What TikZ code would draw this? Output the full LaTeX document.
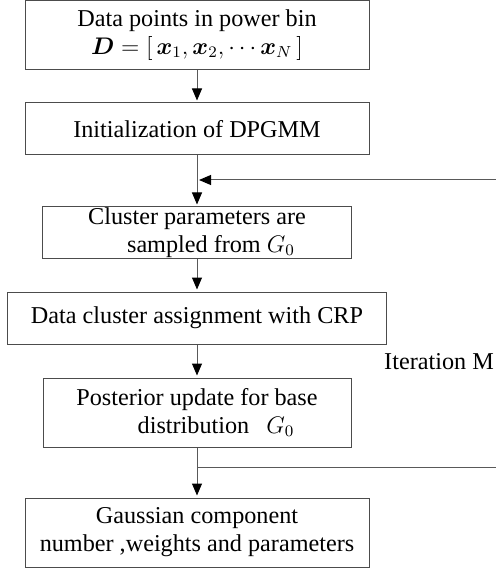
\documentclass[tikz,border=0pt]{standalone}
\usepackage{amsmath,amssymb,bm}
\usepackage{fontspec}
\setmainfont{Liberation Serif}
\usetikzlibrary{arrows.meta,positioning}

\tikzset{
  stepbox/.style={draw=black!70, line width=0.5pt, align=center, inner sep=0pt},
  flow/.style={draw=black!65, line width=0.5pt, shorten >=1pt,
    -{Triangle[length=6pt,width=5pt,color=black]}},
}

\begin{document}
\begin{tikzpicture}[x=0.5pt, y=-0.5pt, every node/.style={font=\fontsize{12.1}{14}\selectfont}]
\useasboundingbox (0,0) rectangle (496,572);

% main chain
\node[stepbox, minimum width=172pt, minimum height=34.2pt] (data) at (197,35) {Data points in power bin\\ $\bm{D}=[\,\bm{x}_1,\bm{x}_2,\cdots\bm{x}_N\,]$};
\node[stepbox, minimum width=172pt, minimum height=26pt] (init) at (197,129) {Initialization of DPGMM};
\node[stepbox, minimum width=154.5pt, minimum height=25.5pt] (sample) at (197,232.5) {Cluster parameters are\\ \hspace*{14pt}sampled from $G_0$};
\node[stepbox, minimum width=189.5pt, minimum height=26pt] (assign) at (197,318) {Data cluster assignment with CRP};
\node[stepbox, minimum width=154pt, minimum height=34.5pt] (post) at (197,412.5) {Posterior update for base\\ \hspace*{19pt}distribution\hspace{0.7em}$G_0$};
\node[stepbox, minimum width=172pt, minimum height=34.5pt] (result) at (197,532.5) {Gaussian component\\ number ,weights and parameters};

\draw[flow] (data) -- (init);
\draw[flow] (init) -- (sample);
\draw[flow] (sample) -- (assign);
\draw[flow] (assign) -- (post);
\draw[flow] (post) -- (result);

% feedback loop, runs off the right edge
\coordinate (split) at (197,467);
\coordinate (join) at (199,180);
\draw[flow, shorten >=0pt] (split) -- ++(320,0) |- (join);
\node (iter) at (439,362) {Iteration M};
\end{tikzpicture}
\end{document}
